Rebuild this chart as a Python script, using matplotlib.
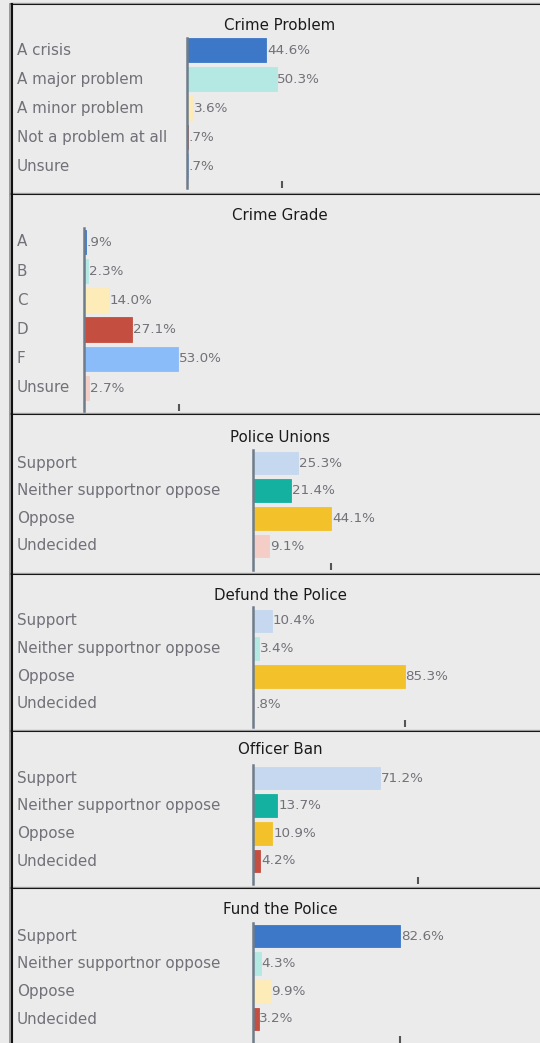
import matplotlib
matplotlib.use("Agg")
import matplotlib.pyplot as plt
from matplotlib.lines import Line2D
from matplotlib.transforms import blended_transform_factory

W, H = 540, 1043

# survey results (percent)
titles = ["Crime Problem", "Crime Grade", "Police Unions",
          "Defund the Police", "Officer Ban", "Fund the Police"]

crime_problem_labels = ["A crisis", "A major problem", "A minor problem",
                        "Not a problem at all", "Unsure"]
crime_problem_values = [44.6, 50.3, 3.6, 0.7, 0.7]

crime_grade_labels = ["A", "B", "C", "D", "F", "Unsure"]
crime_grade_values = [0.9, 2.3, 14.0, 27.1, 53.0, 2.7]

stance_labels = ["Support", "Neither supportnor oppose", "Oppose", "Undecided"]
police_unions_values = [25.3, 21.4, 44.1, 9.1]
defund_values = [10.4, 3.4, 85.3, 0.8]
officer_ban_values = [71.2, 13.7, 10.9, 4.2]
fund_values = [82.6, 4.3, 9.9, 3.2]

BLUE, LTEAL, LYEL, RED, LBLUE, PINK = "#3d78c8", "#b3e8e3", "#fdebb8", "#c44e3f", "#8bbcfa", "#f3cdc6"
STEEL, TEAL, YEL = "#c6d8ef", "#14b1a1", "#f3c12a"

panels = [
    (crime_problem_labels, crime_problem_values, [BLUE, LTEAL, LYEL, RED, LBLUE]),
    (crime_grade_labels, crime_grade_values, [BLUE, LTEAL, LYEL, RED, LBLUE, PINK]),
    (stance_labels, police_unions_values, [STEEL, TEAL, YEL, PINK]),
    (stance_labels, defund_values, [STEEL, LTEAL, YEL, PINK]),
    (stance_labels, officer_ban_values, [STEEL, TEAL, YEL, RED]),
    (stance_labels, fund_values, [BLUE, LTEAL, LYEL, RED]),
]

# layout in pixels: axis x, axis top, axis bottom, first row, last row, title y
layout = [
    (187, 38, 188, 50, 166, 26),
    (84, 228, 411, 242, 388, 215),
    (253, 450, 570, 463, 546, 437),
    (253, 607, 727, 621, 704, 595),
    (253, 765, 884, 778, 861, 750),
    (253, 923, 1043, 936, 1019, 910),
]
tick_pos = [53.4, 53.4, 43.8, 85.4, 92.7, 82.6]
separators = [4, 194, 414, 574, 731, 888]
PX_PER_PCT = 1.78


def fmt(v):
    s = f"{v:.1f}"
    return (s[1:] if s.startswith("0") else s) + "%"


fig = plt.figure(figsize=(W / 100, H / 100), dpi=100, facecolor="#ebebeb")

for (labels, values, colors), (ax_x, y_top, y_bot, r0, r1, ty), title, tp in zip(
        panels, layout, titles, tick_pos):
    n = len(values)
    sp = (r1 - r0) / (n - 1)
    ax = fig.add_axes([ax_x / W, 1 - y_bot / H, (W - ax_x) / W, (y_bot - y_top) / H])
    ax.set_facecolor("none")
    ax.set_xlim(0, (W - ax_x) / PX_PER_PCT)
    ax.set_ylim(n - 1 + (y_bot - r1) / sp, -(r0 - y_top) / sp)
    ypos = list(range(n))
    ax.barh(ypos, values, height=0.83, color=colors, edgecolor=colors,
            linewidth=0.6)
    for y, v in zip(ypos, values):
        ax.text(v + 0.4, y, fmt(v), va="center", ha="left", fontsize=9.7,
                color="#727078")
    tr = blended_transform_factory(fig.transFigure, ax.transData)
    for y, lab in zip(ypos, labels):
        ax.text(17 / W, y, lab, transform=tr, va="center", ha="left",
                fontsize=10.9, color="#727078")
    for s in ["top", "right", "bottom"]:
        ax.spines[s].set_visible(False)
    ax.spines["left"].set_color("#6f7c8a")
    ax.spines["left"].set_linewidth(1.8)
    ax.set_yticks([])
    ax.set_xticks([tp])
    ax.set_xticklabels([])
    ax.tick_params(axis="x", direction="in", length=5, width=1.5,
                   color="#555555", pad=0)
    fig.text(280 / W, 1 - ty / H, title, ha="center", va="center",
             fontsize=10.8, color="#1a1a1a")

# panel borders
for y in separators:
    fig.add_artist(Line2D([11 / W, 1], [1 - y / H, 1 - y / H], color="#111111",
                          lw=1.5, transform=fig.transFigure))
    fig.add_artist(Line2D([11 / W, 1], [1 - (y - 1.5) / H, 1 - (y - 1.5) / H],
                          color="#9a9a9a", lw=0.8, transform=fig.transFigure))
fig.add_artist(Line2D([12 / W, 12 / W], [0, 1 - 4 / H], color="#111111",
                      lw=1.5, transform=fig.transFigure))
fig.add_artist(Line2D([10 / W, 10 / W], [0, 1 - 4 / H], color="#8a8a8a",
                      lw=1.2, transform=fig.transFigure))

fig.savefig("out.png", dpi=100, facecolor=fig.get_facecolor())
